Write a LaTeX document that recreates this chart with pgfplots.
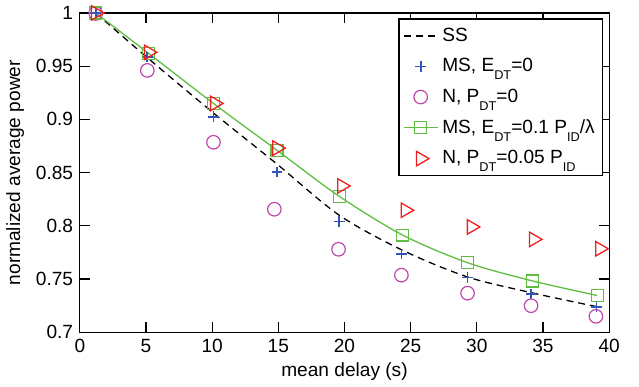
\documentclass[border=0pt]{standalone}
\usepackage{pgfplots}
\pgfplotsset{compat=1.18}
\usepackage{fontspec}
\setmainfont{Liberation Sans}
\definecolor{cblue}{RGB}{50,85,185}
\definecolor{cmag}{RGB}{190,70,170}
\definecolor{cgreen}{RGB}{95,190,65}
\definecolor{cred}{RGB}{240,30,30}
\newcommand{\sub}[1]{\raisebox{-4pt}{\fontsize{6.4}{6.4}\selectfont #1}}
\begin{document}
\fontsize{9.6}{11.5}\selectfont
\begin{tikzpicture}
\begin{axis}[
  name=ax,
  scale only axis,
  width=266pt, height=160.5pt,
  xmin=0, xmax=40, ymin=0.7, ymax=1,
  xtick={0,5,10,15,20,25,30,35,40},
  ytick={0.7,0.75,0.8,0.85,0.9,0.95,1},
  yticklabels={0.7,0.75,0.8,0.85,0.9,0.95,1},
  /pgf/number format/assume math mode=true,
  tick align=inside,
  major tick length=5pt,
  axis line style={line width=0.65pt},
  every tick/.style={line width=0.6pt, black},
  clip=false,
  xlabel={mean delay (s)},
  ylabel={normalized average power},
  xlabel style={at={(axis description cs:0.5,0)}, yshift=-19.5pt, anchor=center},
  ylabel style={at={(axis description cs:-0.122,0.5)}, anchor=center},
  legend style={at={(axis description cs:1,1)}, anchor=north east, xshift=-3pt, yshift=-2.7pt,
    draw=black, line width=0.6pt, row sep=3.2pt, inner xsep=2pt, inner ysep=2.5pt},
  legend cell align=left,
]
\addplot[black, line width=0.65pt, dash pattern=on 3.5pt off 2.5pt, smooth] coordinates {
 (1.2,1.0) (5.1,0.958) (10.1,0.906) (14.9,0.858) (19.6,0.810) (24.4,0.777) (29.3,0.752) (34.2,0.737) (39.1,0.724)};
\addlegendentry{SS}
\addplot[only marks, color=cblue, mark=+, mark size=2.7pt, mark options={draw=cblue, line width=0.85pt}] coordinates {
 (1.2,1.0) (5.1,0.9586) (10.1,0.9025) (14.9,0.8505) (19.6,0.804) (24.3,0.7735) (29.3,0.7514) (34.1,0.736) (39.05,0.7237)};
\addlegendentry{MS, E\sub{DT}=0}
\addplot[only marks, color=cmag, mark=o, mark size=3.4pt, mark options={draw=cmag, line width=0.6pt}] coordinates {
 (1.2,0.9995) (5.1,0.946) (10.1,0.8785) (14.7,0.8156) (19.55,0.778) (24.3,0.7537) (29.3,0.7368) (34.1,0.725) (39.0,0.715)};
\addlegendentry{N, P\sub{DT}=0}
\addplot[color=cgreen, line width=0.65pt, smooth, mark=square, mark size=3pt, mark options={draw=cgreen, line width=0.65pt, solid}] coordinates {
 (1.2,1.0) (5.2,0.962) (10.1,0.915) (14.9,0.871) (19.6,0.8278) (24.4,0.7913) (29.3,0.7654) (34.2,0.7483) (39.1,0.7346)};
\addlegendentry{MS, E\sub{DT}=0.1 P\sub{ID}/λ}
\addplot[only marks, color=cred, mark=triangle, mark size=4.2pt, mark options={draw=cred, line width=0.65pt, rotate=-90}] coordinates {
 (1.2,1.0) (5.2,0.963) (10.2,0.915) (14.9,0.873) (19.8,0.8375) (24.6,0.8147) (29.6,0.799) (34.3,0.7873) (39.3,0.7785)};
\addlegendentry{N, P\sub{DT}=0.05 P\sub{ID}}
\end{axis}
\path (ax.south west) ++(-38.5pt,-25pt) coordinate (bba);
\path (ax.north east) ++(15pt,5.85pt) coordinate (bbb);
\path[use as bounding box] (bba) rectangle (bbb);
\end{tikzpicture}
\end{document}
